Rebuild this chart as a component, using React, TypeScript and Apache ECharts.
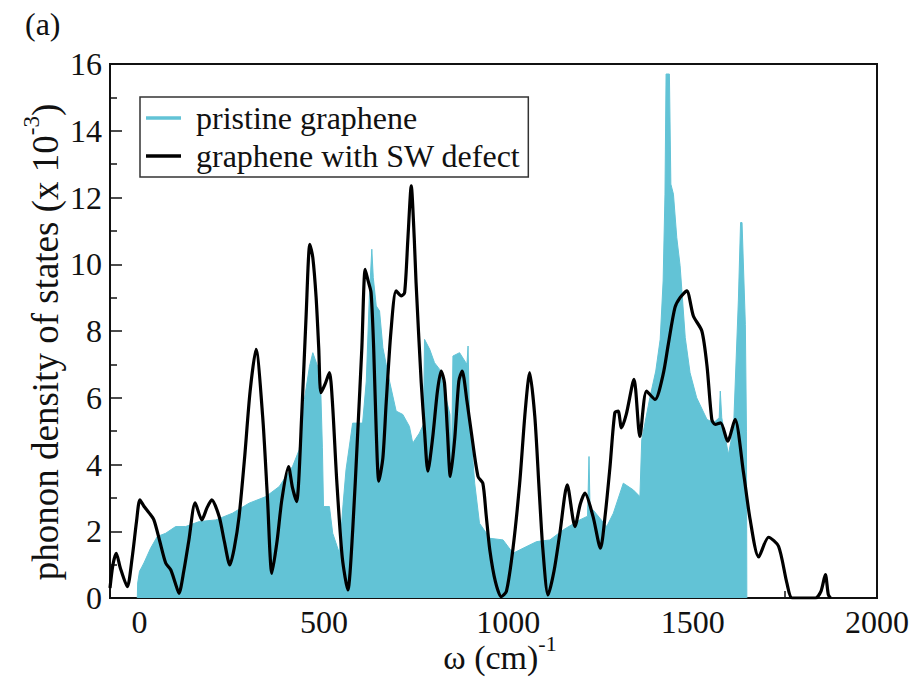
import { useEffect, useRef } from 'react';
import * as echarts from 'echarts';

const FONT = 'Liberation Serif';
const INK = '#111';
const CYAN = '#62C3D6';

// x-axis tick values (cm^-1)
const majorXTicks = [0, 500, 1000, 1500, 2000];
const minorXTicks = [250, 750, 1250, 1750];

// pristine graphene phonon DOS (x 10^-3)
const pristineX = [-6, -5, 0, 5, 12, 30, 48, 71, 98, 125, 162, 207, 252, 297, 343, 379, 415, 433, 447, 461, 470, 483, 492, 496, 499, 515, 524, 542, 552, 560, 578, 605, 615, 623, 630, 634, 642, 651, 660, 678, 696, 714, 732, 741, 759, 770, 773, 787, 800, 814, 832, 842, 845, 848, 850, 868, 888, 891, 895, 909, 922, 950, 986, 1013, 1040, 1077, 1113, 1149, 1194, 1215, 1219, 1222, 1230, 1267, 1285, 1312, 1339, 1357, 1362, 1384, 1400, 1412, 1420, 1425, 1428, 1437, 1441, 1448, 1457, 1466, 1480, 1493, 1511, 1539, 1557, 1572, 1575, 1579, 1597, 1611, 1624, 1630, 1634, 1643, 1646, 1647];
const pristineY = [0, 0.45, 0.8, 0.9, 1.05, 1.49, 1.84, 1.94, 2.14, 2.14, 2.29, 2.34, 2.54, 2.84, 3.04, 3.34, 3.94, 4.44, 5.94, 6.94, 7.35, 6.94, 6.05, 4.5, 2.74, 2.74, 1.94, 1.34, 2.8, 3.84, 5.24, 5.24, 6.5, 8.95, 10.45, 9.6, 8.75, 8.6, 7.5, 6.5, 5.6, 5.5, 5.14, 4.64, 4.94, 5.2, 7.75, 7.45, 7.05, 6.85, 5.95, 5.5, 3.44, 5.5, 7.25, 7.35, 7.0, 7.55, 5.44, 3.44, 2.24, 1.79, 1.74, 1.34, 1.49, 1.69, 1.74, 2.04, 2.34, 2.45, 4.24, 2.6, 2.64, 2.14, 2.54, 3.44, 3.24, 3.04, 4.74, 6.0, 6.8, 7.75, 9.5, 12.1, 15.7, 15.7, 12.4, 12.1, 10.8, 9.96, 7.8, 6.75, 6.0, 5.35, 5.25, 5.4, 6.2, 5.4, 4.3, 5.1, 8.9, 11.25, 11.25, 8.2, 5.0, 0];

// graphene with Stone-Wales defect phonon DOS (x 10^-3)
const swX = [-80, -72, -63, -52, -33, -20, -8, 1, 12, 26, 39, 55, 71, 85, 97, 107, 120, 134, 151, 169, 183, 196, 216, 230, 245, 257, 270, 285, 300, 316, 334, 347, 359, 373, 386, 404, 415, 426, 440, 452, 462, 470, 479, 486, 492, 503, 515, 523, 535, 550, 565, 578, 592, 603, 612, 620, 628, 635, 642, 649, 660, 669, 682, 696, 710, 719, 728, 737, 745, 750, 764, 773, 782, 795, 808, 818, 827, 835, 843, 855, 866, 875, 888, 900, 918, 931, 940, 950, 965, 981, 995, 1013, 1031, 1046, 1058, 1072, 1084, 1094, 1108, 1124, 1140, 1160, 1181, 1195, 1208, 1230, 1250, 1263, 1276, 1289, 1298, 1307, 1320, 1341, 1357, 1375, 1398, 1420, 1434, 1452, 1466, 1484, 1502, 1525, 1539, 1552, 1561, 1576, 1595, 1615, 1638, 1656, 1679, 1706, 1733, 1756, 1770, 1833, 1848, 1860, 1868, 1874];
const swY = [0.3, 1.0, 1.34, 0.9, 0.34, 1.2, 2.3, 2.94, 2.75, 2.55, 2.34, 1.7, 1.05, 0.84, 0.45, 0.14, 0.8, 1.74, 2.85, 2.34, 2.7, 2.94, 2.44, 1.7, 0.99, 1.5, 2.44, 4.2, 6.2, 7.45, 5.44, 3.0, 0.74, 1.7, 2.94, 3.94, 3.3, 2.89, 5.5, 8.5, 10.6, 10.2, 9.0, 7.5, 6.15, 6.4, 6.75, 5.9, 3.5, 1.2, 0.24, 2.0, 5.0, 7.5, 9.85, 9.5, 9.15, 7.5, 5.0, 3.5, 4.2, 5.85, 8.0, 9.2, 9.05, 9.15, 10.8, 12.35, 10.8, 9.45, 6.45, 5.0, 3.8, 4.8, 6.2, 6.8, 6.45, 5.0, 3.64, 4.8, 6.5, 6.8, 5.9, 4.95, 3.64, 3.44, 2.5, 1.44, 0.5, 0.04, 0.2, 1.5, 3.44, 5.6, 6.75, 5.44, 3.2, 1.44, 0.09, 0.8, 1.94, 3.39, 2.14, 2.8, 3.14, 2.44, 1.49, 2.5, 3.94, 5.55, 5.6, 5.1, 5.5, 6.55, 4.84, 6.2, 5.95, 6.7, 7.6, 8.7, 9.0, 9.2, 8.45, 8.0, 6.95, 5.35, 5.2, 5.25, 4.7, 5.35, 3.75, 2.35, 1.23, 1.82, 1.55, 0.43, 0, 0, 0.2, 0.7, 0.1, 0];

const seriesNames = ['pristine graphene', 'graphene with SW defect'];

export default function App() {
  const ref = useRef<HTMLDivElement>(null);

  useEffect(() => {
    if (!ref.current) return;
    const chart = echarts.init(ref.current, null, { renderer: 'svg' });

    const axisLineStyle = { color: INK, width: 2 };
    const labelStyle = { fontSize: 32, fontFamily: FONT, color: INK };
    const plain = (v: number) => String(v);

    const option: any = {
      animation: false,
      backgroundColor: '#fff',
      textStyle: { fontFamily: FONT },
      grid: {
        left: 110,
        right: 39,
        top: 64,
        bottom: 94,
        show: true,
        borderColor: INK,
        borderWidth: 2,
        backgroundColor: 'transparent',
      },
      legend: {
        orient: 'vertical',
        left: 140,
        top: 97,
        padding: [3, 8, 3, 6],
        itemGap: 2,
        itemWidth: 35,
        itemHeight: 3.5,
        icon: 'rect',
        borderColor: '#333',
        borderWidth: 1.5,
        selectedMode: false,
        textStyle: {
          fontSize: 32,
          fontFamily: FONT,
          color: INK,
          lineHeight: 36,
          padding: [0, 0, 0, 10],
        },
        data: seriesNames,
      },
      xAxis: [
        {
          type: 'value',
          min: -80,
          max: 2000,
          position: 'bottom',
          axisLine: { show: true, onZero: false, lineStyle: axisLineStyle },
          axisTick: {
            show: true,
            inside: true,
            length: 12,
            customValues: majorXTicks,
            lineStyle: { color: INK, width: 1.5 },
          },
          axisLabel: { ...labelStyle, margin: 8, customValues: majorXTicks, formatter: plain },
          splitLine: { show: false },
        },
        {
          type: 'value',
          min: -80,
          max: 2000,
          position: 'bottom',
          axisLine: { show: false, onZero: false },
          axisTick: {
            show: true,
            inside: true,
            length: 7,
            customValues: minorXTicks,
            lineStyle: { color: INK, width: 1.5 },
          },
          axisLabel: { show: false },
          splitLine: { show: false },
        },
      ],
      yAxis: {
        type: 'value',
        min: 0,
        max: 16,
        interval: 2,
        axisLine: { show: true, onZero: false, lineStyle: axisLineStyle },
        axisTick: { show: true, inside: true, length: 12, lineStyle: { color: INK, width: 1.5 } },
        minorTick: { show: true, splitNumber: 2, length: 7, lineStyle: { color: INK, width: 1.5 } },
        axisLabel: { ...labelStyle, margin: 8, formatter: plain },
        splitLine: { show: false },
        minorSplitLine: { show: false },
      },
      series: [
        {
          name: seriesNames[0],
          type: 'line',
          data: pristineX.map((x, i) => [x, pristineY[i]]),
          showSymbol: false,
          symbol: 'none',
          itemStyle: { color: CYAN },
          lineStyle: { color: CYAN, width: 1 },
          areaStyle: { color: CYAN, opacity: 1 },
          z: 1,
        },
        {
          name: seriesNames[1],
          type: 'line',
          data: swX.map((x, i) => [x, swY[i]]),
          showSymbol: false,
          symbol: 'none',
          smooth: 0.25,
          itemStyle: { color: '#000' },
          lineStyle: { color: '#000', width: 3.2 },
          z: 3,
        },
      ],
      graphic: [
        {
          type: 'text',
          left: 25,
          top: 8,
          style: { text: '(a)', fontSize: 32, fontFamily: FONT, fill: INK },
        },
        {
          type: 'text',
          x: 500,
          y: 657,
          style: {
            text: '{a|ω (cm)}{s|-1}',
            align: 'center',
            verticalAlign: 'middle',
            textAlign: 'center',
            textVerticalAlign: 'middle',
            fill: INK,
            fontFamily: FONT,
            rich: {
              a: { fontSize: 34, lineHeight: 50, fontFamily: FONT, fill: INK },
              s: { fontSize: 22, lineHeight: 22, verticalAlign: 'top', fontFamily: FONT, fill: INK },
            },
          },
        },
        {
          type: 'text',
          x: 45,
          y: 342,
          rotation: Math.PI / 2,
          style: {
            text: '{a|phonon density of states (x 10}{s|-3}{a|)}',
            align: 'center',
            verticalAlign: 'middle',
            textAlign: 'center',
            textVerticalAlign: 'middle',
            fill: INK,
            fontFamily: FONT,
            rich: {
              a: { fontSize: 37, lineHeight: 50, fontFamily: FONT, fill: INK },
              s: { fontSize: 23, lineHeight: 23, verticalAlign: 'top', fontFamily: FONT, fill: INK },
            },
          },
        },
      ],
    };

    chart.setOption(option);
    return () => chart.dispose();
  }, []);

  return (
    <div
      ref={ref}
      style={{ position: 'fixed', left: 0, top: 0, width: 916, height: 692, background: '#fff' }}
    />
  );
}
